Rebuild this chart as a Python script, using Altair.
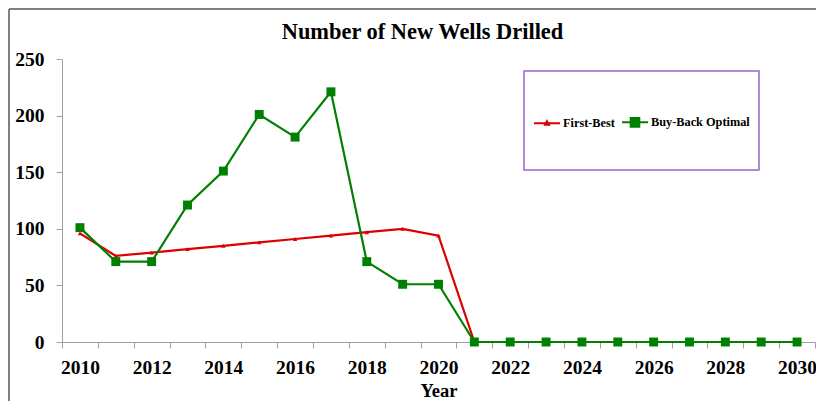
import altair as alt
import pandas as pd

years = list(range(2010, 2031))
first_best = [96, 76, 79, 82, 85, 88, 91, 94, 97, 100, 94,
              0, 0, 0, 0, 0, 0, 0, 0, 0, 0]
buy_back = [101, 71, 71, 121, 151, 201, 181, 221, 71, 51, 51,
            0, 0, 0, 0, 0, 0, 0, 0, 0, 0]
series_names = ["First-Best", "Buy-Back Optimal"]
series_colors = ["#DD0000", "#008000"]
marker_shapes = ["triangle-up", "square"]
legend_paths = [
    "M-1,0H1M0,-0.17L0.15,0.1H-0.15Z",
    "M-1,0H1M-0.33,-0.33H0.33V0.33H-0.33Z",
]
y_ticks = [0, 50, 100, 150, 200, 250]

rows = []
for name, vals in zip(series_names, [first_best, buy_back]):
    for yr, v in zip(years, vals):
        rows.append({"Year": yr, "Wells": v, "Series": name})
df = pd.DataFrame(rows)

FONT = "Liberation Serif"
W, H = 753, 283

x_enc = alt.X(
    "Year:O",
    scale=alt.Scale(type="band", paddingInner=0, paddingOuter=0),
    axis=alt.Axis(
        title="Year", tickBand="extent", labelAngle=0, labelOverlap=False,
        labelExpr="datum.value % 2 == 0 ? datum.label : ''",
        labelFont=FONT, labelFontSize=19.5, labelFontWeight="bold", labelColor="black",
        labelPadding=10, tickSize=6, tickColor="#a0a0a0", domainColor="#a0a0a0",
        titleFont=FONT, titleFontSize=18.5, titleFontWeight="bold", titleColor="black",
        titlePadding=5, grid=False,
    ),
)
y_enc = alt.Y(
    "Wells:Q",
    scale=alt.Scale(domain=[0, 250], nice=False),
    axis=alt.Axis(
        title=None, values=y_ticks, grid=False,
        labelFont=FONT, labelFontSize=19.5, labelFontWeight="bold", labelColor="black",
        labelPadding=12, tickSize=6, tickColor="#a0a0a0", domainColor="#a0a0a0",
    ),
)
color_scale = alt.Scale(domain=series_names, range=series_colors)

lines = alt.Chart(df).mark_line(strokeWidth=2.2).encode(
    x=x_enc, y=y_enc,
    color=alt.Color("Series:N", scale=color_scale, legend=None),
    detail="Series:N",
)

points = alt.Chart(df).mark_point(filled=True, opacity=1).encode(
    x=x_enc, y=y_enc,
    color=alt.Color("Series:N", scale=color_scale, legend=None),
    shape=alt.Shape("Series:N", scale=alt.Scale(domain=series_names, range=marker_shapes), legend=None),
    size=alt.Size("Series:N", scale=alt.Scale(domain=series_names, range=[20, 80]), legend=None),
)

legend_def = alt.Legend(
    title=None, orient="none", legendX=471, legendY=49, direction="horizontal",
    labelFont=FONT, labelFontSize=12.3, labelFontWeight="bold", labelColor="black",
    labelOffset=2, columnPadding=3, symbolSize=676, symbolStrokeWidth=2,
    symbolOpacity=1, padding=0,
)
legend_layer = alt.Chart(df).transform_filter("false").mark_point(filled=True).encode(
    x=x_enc, y=y_enc,
    fill=alt.Fill("Series:N", scale=alt.Scale(domain=series_names, range=series_colors), legend=legend_def),
    stroke=alt.Stroke("Series:N", scale=alt.Scale(domain=series_names, range=series_colors), legend=legend_def),
    shape=alt.Shape("Series:N", scale=alt.Scale(domain=series_names, range=legend_paths), legend=legend_def),
)

one_row = "datum.Year == 2010 && datum.Series == 'First-Best'"
legend_box = alt.Chart(df).mark_rect(fill=None, stroke="#9966CC", strokeWidth=1.5).encode(
    x=alt.value(462), x2=alt.value(697), y=alt.value(12), y2=alt.value(111)
).transform_filter(one_row)

frame_left = alt.Chart(df).mark_rule(color="#808080", strokeWidth=2).encode(
    x=alt.value(-53), y=alt.value(-50), y2=alt.value(400)
).transform_filter(one_row)
frame_top = alt.Chart(df).mark_rule(color="#808080", strokeWidth=2).encode(
    x=alt.value(-53), x2=alt.value(800), y=alt.value(-50)
).transform_filter(one_row)

chart = alt.layer(
    frame_left, frame_top, legend_box, lines, points, legend_layer
).resolve_scale(
    shape="independent", fill="independent", stroke="independent"
).properties(
    width=W, height=H,
    autosize=alt.AutoSizeParams(type="none"),
    padding={"left": 54, "top": 51, "right": 1, "bottom": 59},
    title=alt.TitleParams(
        "Number of New Wells Drilled", font=FONT, fontSize=22.4, fontWeight="bold",
        color="black", anchor="middle", dx=-16, offset=0, dy=35,
    ),
).configure_view(stroke=None)

chart.save("out.html", embed_options={"renderer": "svg", "actions": False})
